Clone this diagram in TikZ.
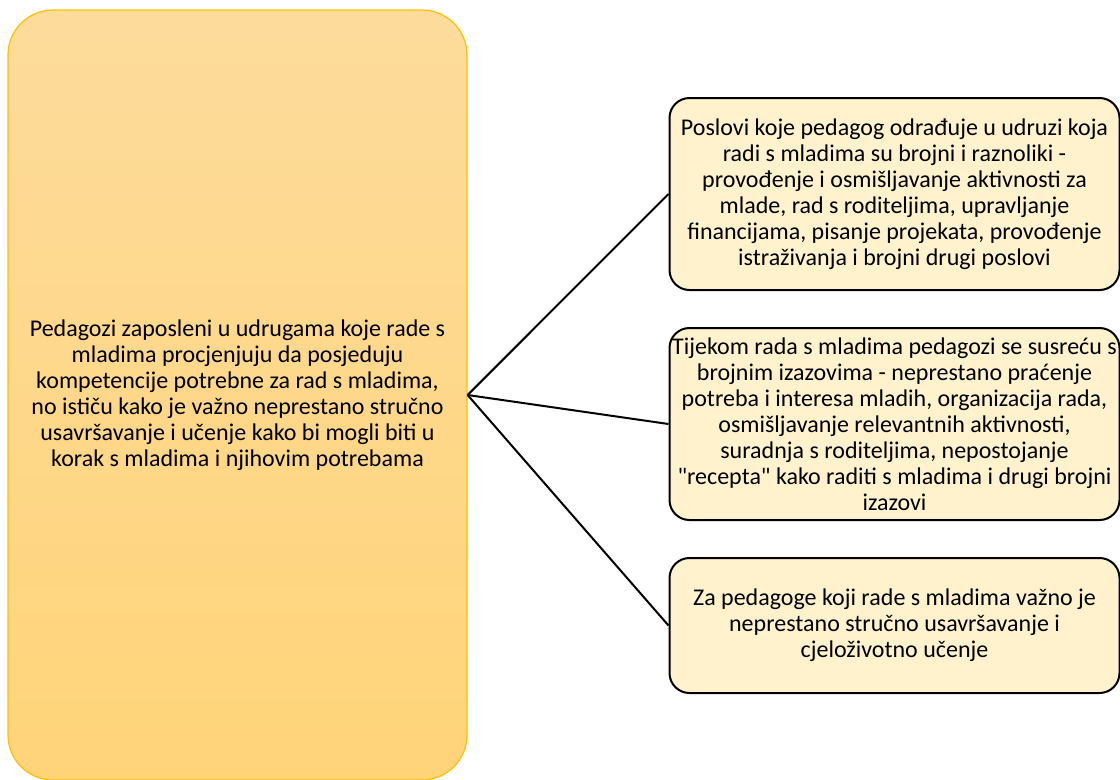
\documentclass[tikz,border=0pt]{standalone}
\usepackage{fontspec}
\setmainfont{Carlito}[Ligatures=TeXOff]
\definecolor{lefttop}{HTML}{FDDB9B}
\definecolor{leftbot}{HTML}{FFD479}
\definecolor{leftedge}{HTML}{FFC000}
\definecolor{boxfill}{HTML}{FFF2CC}
\definecolor{txtcol}{HTML}{000000}
\tikzset{
  mainbox/.style={rectangle, rounded corners=33.75pt, draw=leftedge, line width=0.9pt,
    top color=lefttop, bottom color=leftbot, minimum width=344.25pt, minimum height=577.5pt, inner sep=0pt},
  sidebox/.style={rectangle, rounded corners=15pt, draw=black, line width=1.5pt,
    fill=boxfill, minimum width=337.5pt, inner sep=0pt},
  txt/.style={align=center, inner sep=0pt, text=txtcol, font=\fontsize{18pt}{19.5pt}\selectfont},
  conn/.style={draw=black, line width=1.5pt}
}
\begin{document}
\begin{tikzpicture}[x=0.75pt,y=-0.75pt]
\useasboundingbox (0,0) rectangle (1120,779);
\begin{scope}
\clip (0,0) rectangle (1120,779);
\node[mainbox] (main) at (237.5,395) {};
\node[txt] (maintxt) at (237.5,395) {Pedagozi zaposleni u udrugama koje rade s\\mladima procjenjuju da posjeduju\\kompetencije potrebne za rad s mladima,\\no ističu kako je važno neprestano stručno\\usavršavanje i učenje kako bi mogli biti u\\korak s mladima i njihovim potrebama};
\node[sidebox, minimum height=144pt] (b1) at (894.5,194) {};
\node[txt] (t1) at (b1.center) {Poslovi koje pedagog odrađuje u udruzi koja\\radi s mladima su brojni i raznoliki -\\provođenje i osmišljavanje aktivnosti za\\mlade, rad s roditeljima, upravljanje\\financijama, pisanje projekata, provođenje\\istraživanja i brojni drugi poslovi};
\node[sidebox, minimum height=144pt] (b2) at (894.5,424) {};
\node[txt] (t2) at (b2.center) {Tijekom rada s mladima pedagozi se susreću s\\brojnim izazovima - neprestano praćenje\\potreba i interesa mladih, organizacija rada,\\osmišljavanje relevantnih aktivnosti,\\suradnja s roditeljima, nepostojanje\\"recepta" kako raditi s mladima i drugi brojni\\izazovi};
\node[sidebox, minimum height=101.25pt] (b3) at (894.5,625.5) {};
\node[txt] (t3) at (b3.center) {Za pedagoge koji rade s mladima važno je\\neprestano stručno usavršavanje i\\cjeloživotno učenje};
\draw[conn] (main.east) -- (b1.west);
\draw[conn] (main.east) -- (b2.west);
\draw[conn] (main.east) -- (b3.west);
\end{scope}
\end{tikzpicture}
\end{document}
